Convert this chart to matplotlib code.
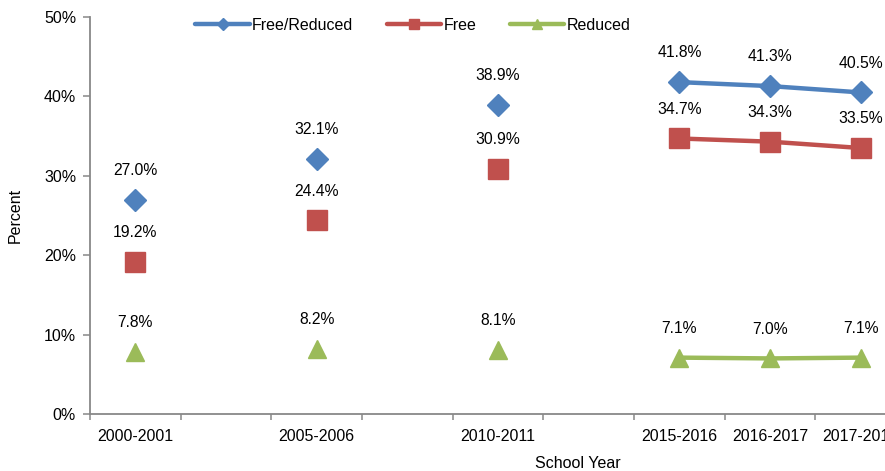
import numpy as np
import matplotlib
matplotlib.use("Agg")
import matplotlib.pyplot as plt
from matplotlib.lines import Line2D

plt.rcParams['font.family'] = ['Liberation Sans', 'DejaVu Sans']

categories = ["2000-2001", "", "2005-2006", "", "2010-2011", "",
              "2015-2016", "2016-2017", "2017-2018"]
free_reduced = [27.0, None, 32.1, None, 38.9, None, 41.8, 41.3, 40.5]
free = [19.2, None, 24.4, None, 30.9, None, 34.7, 34.3, 33.5]
reduced = [7.8, None, 8.2, None, 8.1, None, 7.1, 7.0, 7.1]
series_names = ["Free/Reduced", "Free", "Reduced"]
yticks = [0, 10, 20, 30, 40, 50]

colors = ["#4F81BD", "#C0504D", "#9BBB59"]
markers = ["D", "s", "^"]
msizes = [11, 14, 13.5]
leg_ms = [6, 7, 7]

FS = 11.5
W, H = 885, 471
fig = plt.figure(figsize=(W / 100, H / 100), dpi=100)
ax = fig.add_axes([90 / W, 1 - 414 / H, (906 - 90) / W, (414 - 17) / H])

x = np.arange(len(categories))
for vals, name, c, m, ms in zip([free_reduced, free, reduced], series_names, colors, markers, msizes):
    y = np.array([np.nan if v is None else v for v in vals], dtype=float)
    ax.plot(x, y, color=c, lw=3.2, marker=m, ms=ms, mec=c, mfc=c,
            solid_capstyle='round', label=name, clip_on=False)
    for xi, yi in zip(x, y):
        if not np.isnan(yi):
            ax.annotate(f"{yi:.1f}%", (xi, yi), xytext=(0, 21), textcoords='offset points',
                        ha='center', va='center', fontsize=11.3, color='#000000')

ax.set_xlim(-0.5, len(categories) - 0.5)
ax.set_ylim(0, 50)
ax.set_yticks(yticks)
ax.set_yticklabels([f"{t}%" for t in yticks])
ax.set_xticks(x)
ax.set_xticklabels(categories)
ax.set_xticks(np.arange(-0.5, len(categories)), minor=True)
ax.tick_params(axis='x', which='major', length=0, pad=11, labelsize=FS)
ax.tick_params(axis='x', which='minor', length=4, width=1.1, color='#888888', direction='out')
ax.tick_params(axis='y', length=5, width=1.1, color='#888888', pad=5, labelsize=FS)

for s in ['top', 'right']:
    ax.spines[s].set_visible(False)
for s in ['left', 'bottom']:
    ax.spines[s].set_color('#888888')
    ax.spines[s].set_linewidth(1.3)

leg_handles = [Line2D([0], [0], color=c, lw=3.2, marker=m, ms=lm, mfc=c, mec=c, solid_capstyle='round')
               for c, m, lm in zip(colors, markers, leg_ms)]
fig.legend(leg_handles, series_names, loc='center', bbox_to_anchor=(413 / W, 1 - 25 / H),
           ncol=3, frameon=False, fontsize=FS, handlelength=3.4, handletextpad=0.15,
           columnspacing=2.1)

fig.text(578 / W, 1 - 464 / H, "School Year", ha='center', va='center', fontsize=FS)
fig.text(15 / W, 1 - 215 / H, "Percent", ha='center', va='center', rotation=90, fontsize=FS)

fig.savefig("out.png", dpi=100)
